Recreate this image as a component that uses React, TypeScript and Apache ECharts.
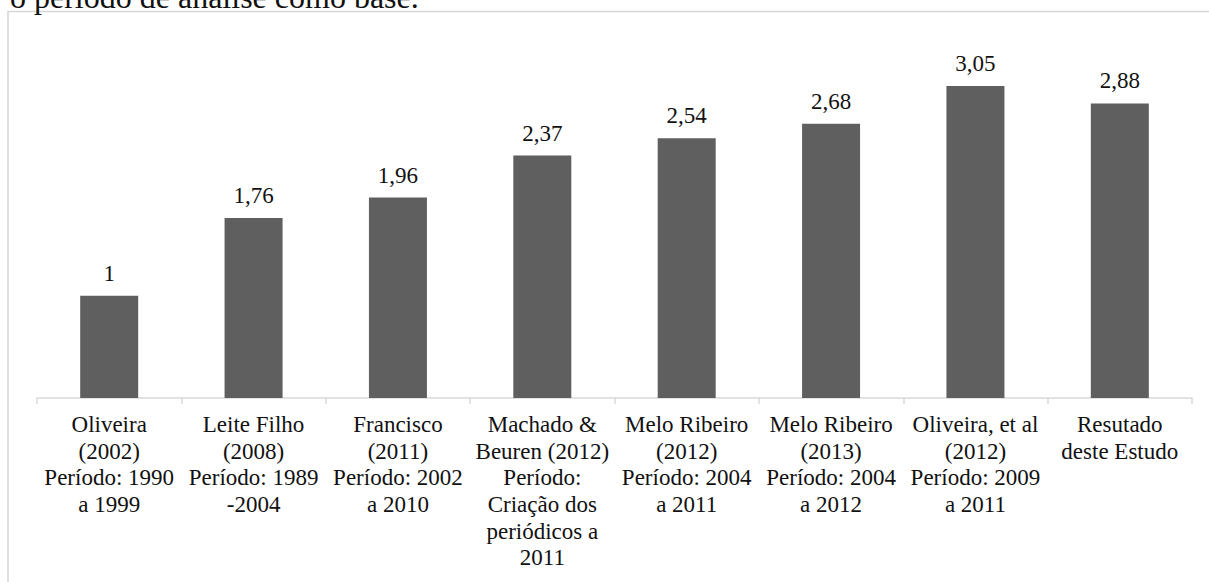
import React, { useEffect, useRef } from "react";
import * as echarts from "echarts";

const categories = [
  "Oliveira\n(2002)\nPeríodo: 1990\na 1999",
  "Leite Filho\n(2008)\nPeríodo: 1989\n-2004",
  "Francisco\n(2011)\nPeríodo: 2002\na 2010",
  "Machado &\nBeuren (2012)\nPeríodo:\nCriação dos\nperiódicos a\n2011",
  "Melo Ribeiro\n(2012)\nPeríodo: 2004\na 2011",
  "Melo Ribeiro\n(2013)\nPeríodo: 2004\na 2012",
  "Oliveira, et al\n(2012)\nPeríodo: 2009\na 2011",
  "Resutado\ndeste Estudo",
];
const values = [1, 1.76, 1.96, 2.37, 2.54, 2.68, 3.05, 2.88];
const captionText = "o período de análise como base.";

const SERIF = "Liberation Serif";

export default function App() {
  const ref = useRef<HTMLDivElement>(null);
  useEffect(() => {
    if (!ref.current) return;
    const chart = echarts.init(ref.current, undefined, { renderer: "svg" });
    chart.setOption({
      animation: false,
      backgroundColor: "#ffffff",
      textStyle: { fontFamily: SERIF },
      graphic: [
        {
          type: "rect",
          shape: { x: 8, y: 11.5, width: 1400, height: 800 },
          style: { fill: "none", stroke: "#d6d6d6", lineWidth: 1.5 },
          silent: true,
          z: 0,
        },
        {
          type: "text",
          x: 10,
          y: 12.5,
          style: {
            text: captionText,
            font: `32px ${SERIF}`,
            fill: "#111111",
            align: "left",
            verticalAlign: "bottom",
          },
          silent: true,
        },
      ],
      grid: { left: 37, right: 17, top: 40, bottom: 184, containLabel: false },
      xAxis: {
        type: "category",
        data: categories,
        boundaryGap: true,
        axisLine: { show: true, lineStyle: { color: "#d9d9d9", width: 1.5 } },
        axisTick: { show: true, length: 6, alignWithLabel: false, lineStyle: { color: "#d9d9d9", width: 1.5 } },
        axisLabel: {
          interval: 0,
          margin: 13,
          color: "#111111",
          fontFamily: SERIF,
          fontSize: 23,
          lineHeight: 26.7,
          align: "center",
          verticalAlign: "top",
        },
      },
      yAxis: {
        type: "value",
        min: 0,
        max: 3.5,
        show: false,
        splitLine: { show: false },
      },
      series: [
        {
          type: "bar",
          data: values,
          barWidth: 58,
          itemStyle: { color: "#5f5f5f" },
          label: {
            show: true,
            position: "top",
            distance: 11,
            color: "#111111",
            fontFamily: SERIF,
            fontSize: 23,
            formatter: (p: any) => String(p.value).replace(".", ","),
          },
        },
      ],
    });
    return () => chart.dispose();
  }, []);
  return (
    <div
      ref={ref}
      style={{ position: "fixed", left: 0, top: 0, width: 1209, height: 582 }}
    />
  );
}
